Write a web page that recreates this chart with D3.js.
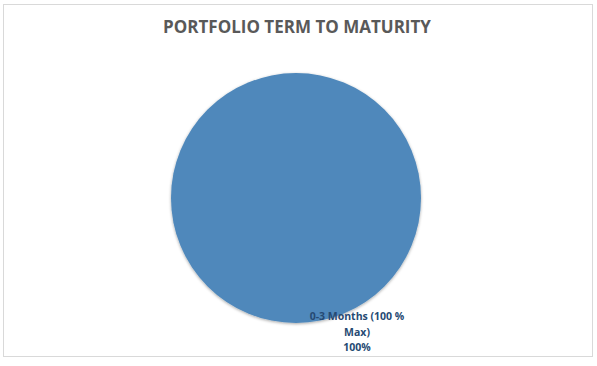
<!DOCTYPE html>
<html>
<head>
<meta charset="utf-8">
<script src="https://d3js.org/d3.v7.min.js"></script>
<style>
  body { margin: 0; background: #fff; }
  svg { display: block; }
</style>
</head>
<body>
<script>
// data
var categories = ["0-3 Months (100 % Max)"];
var values = [100];
var labelLines = [["0-3 Months (100 %", "Max)", "100%"]];

var W = 597, H = 366;
var cx = 296, cy = 198, r = 125;

var svg = d3.select("body").append("svg")
  .attr("width", W)
  .attr("height", H);

var defs = svg.append("defs");
var f = defs.append("filter").attr("id", "shadow")
  .attr("x", "-10%").attr("y", "-10%").attr("width", "120%").attr("height", "120%");
f.append("feDropShadow")
  .attr("dx", 0).attr("dy", 1).attr("stdDeviation", 1.5)
  .attr("flood-color", "#000").attr("flood-opacity", 0.35);

// chart frame
svg.append("rect")
  .attr("x", 3.5).attr("y", 4.5)
  .attr("width", 589).attr("height", 352)
  .attr("fill", "#fff")
  .attr("stroke", "#d9d9d9");

svg.append("text")
  .attr("x", 297).attr("y", 33)
  .attr("text-anchor", "middle")
  .style("font-family", "'Open Sans', sans-serif")
  .style("font-weight", "bold")
  .style("font-size", "17px")
  .style("fill", "#595959")
  .text("PORTFOLIO TERM TO MATURITY");

var color = d3.scaleOrdinal().domain(categories).range(["#4f88bb"]);
var pie = d3.pie().sort(null).value(function(d) { return d; });
var arc = d3.arc().innerRadius(0).outerRadius(r);

var g = svg.append("g").attr("transform", "translate(" + cx + "," + cy + ")");

g.selectAll("path")
  .data(pie(values))
  .enter()
  .append("path")
  .attr("d", arc)
  .attr("fill", function(d, i) { return color(categories[i]); })
  .attr("filter", "url(#shadow)");

// data label, placed near the bottom-right like the original
var lab = svg.append("text")
  .attr("text-anchor", "middle")
  .style("font-family", "'Open Sans', sans-serif")
  .style("font-weight", "bold")
  .style("font-size", "10.5px")
  .style("fill", "#264a73");

lab.selectAll("tspan")
  .data(labelLines[0])
  .enter()
  .append("tspan")
  .attr("x", 357)
  .attr("y", function(d, i) { return 320 + i * 15.5; })
  .text(function(d) { return d; });
</script>
</body>
</html>
